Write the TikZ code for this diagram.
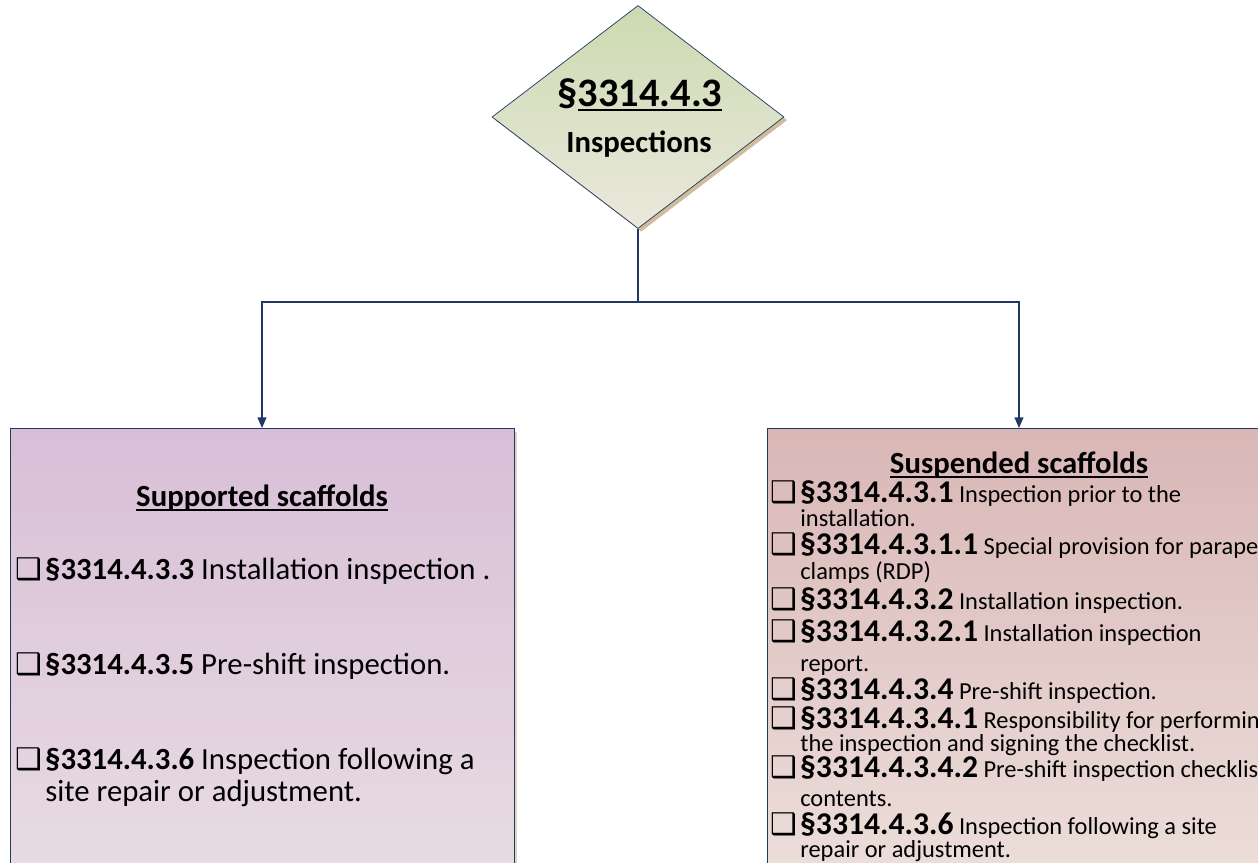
\documentclass[tikz,border=0pt]{standalone}
\usepackage{fontspec}
\setmainfont{Carlito}
\newfontfamily\boxfont{DejaVu Sans}
\usetikzlibrary{arrows.meta,positioning,shapes.geometric,shadows}
\definecolor{navy}{RGB}{31,56,100}
\definecolor{sage}{RGB}{204,218,176}
\definecolor{sagelight}{RGB}{234,232,220}
\definecolor{lilac}{RGB}{216,191,216}
\definecolor{lilaclight}{RGB}{233,221,226}
\definecolor{rose}{RGB}{217,183,182}
\definecolor{roselight}{RGB}{237,224,219}
\definecolor{sand}{RGB}{196,170,130}
\newcommand{\chk}{\makebox[17pt][l]{\boxfont\fontsize{17}{17}\selectfont ❑}}
\newcommand{\secnum}[1]{{\bfseries\fontsize{18}{21}\selectfont #1}}
\newcommand{\ul}[1]{\setbox0\hbox{#1}\rlap{\rule[-2pt]{\wd0}{1.1pt}}\box0}
\tikzset{
  >={Triangle[length=6pt,width=5pt]},
  hub/.style={diamond,draw=navy,thin,top color=sage,bottom color=sagelight,
    minimum width=5.84cm,minimum height=4.46cm,inner sep=0pt,
    drop shadow={shadow xshift=1.8pt,shadow yshift=-1.8pt,fill=sand,opacity=0.8}},
  panel/.style={draw=navy,thin,top color=#1,bottom color=#1light,anchor=north,
    minimum width=10.08cm,minimum height=9.4cm,
    drop shadow={shadow xshift=1.8pt,shadow yshift=-1.8pt,fill=sand,opacity=0.5}},
  link/.style={draw=navy,line width=0.8pt},
  head/.style={anchor=base,inner sep=0pt,font=\bfseries\fontsize{#1}{#1}\selectfont},
  head/.default=17.5,
  item/.style={anchor=base west,inner sep=0pt,font=\fontsize{#1}{#1}\selectfont},
  item/.default=17.5,
}
\begin{document}
\begin{tikzpicture}
  \path[use as bounding box,clip] (0,0) rectangle (25.16,17.26);
  % top of the chart
  \node[hub] (hub) at (12.76,14.92) {};
  \node[head=23] (hubnum) at (12.8,15.12) {§\ul{3314.4.3}};
  \node[head] (hubname) at (12.78,14.2) {Inspections};
  % the two branches
  \node[panel=lilac] (sup) at (5.24,8.7) {};
  \node[panel=rose] (sus) at (20.38,8.7) {};
  \coordinate (fork) at (12.76,11.22);
  \draw[link] (hub.south) -- (fork);
  \foreach \n in {sup,sus} \draw[link,->] (fork) -| (\n.north);
  % supported scaffolds
  \node[head] (suptitle) at (5.24,7.12) {\ul{Supported scaffolds}};
  \foreach \y/\num/\txt [count=\i] in {5.66/§3314.4.3.3/Installation inspection .,
      3.76/§3314.4.3.5/Pre-shift inspection.,1.86/§3314.4.3.6/Inspection following a}
    \node[item] (sup-\i) at (0.3,\y) {\chk\textbf{\num} \txt};
  \node[item] (sup-3b) at (0.9,1.22) {site repair or adjustment.};
  % suspended scaffolds
  \node[head] (sustitle) at (20.38,7.78) {\ul{Suspended scaffolds}};
  \foreach \y/\num/\txt [count=\i] in {7.2/§3314.4.3.1/Inspection prior to the,
      6.16/§3314.4.3.1.1/Special provision for parapet,
      5.06/§3314.4.3.2/Installation inspection.,
      4.42/§3314.4.3.2.1/Installation inspection,
      3.26/§3314.4.3.4/Pre-shift inspection.,
      2.68/§3314.4.3.4.1/Responsibility for performing,
      1.7/§3314.4.3.4.2/Pre-shift inspection checklist,
      0.56/§3314.4.3.6/Inspection following a site}
    \node[item=13.9] (sus-\i) at (15.4,\y) {\chk\secnum{\num} \txt};
  \foreach \y/\txt [count=\i] in {6.72/installation.,5.66/clamps (RDP),3.82/report.,
      2.22/the inspection and signing the checklist.,1.12/contents.,0.1/repair or adjustment.}
    \node[item=13.9] (susb-\i) at (16.0,\y) {\txt};
\end{tikzpicture}
\end{document}
